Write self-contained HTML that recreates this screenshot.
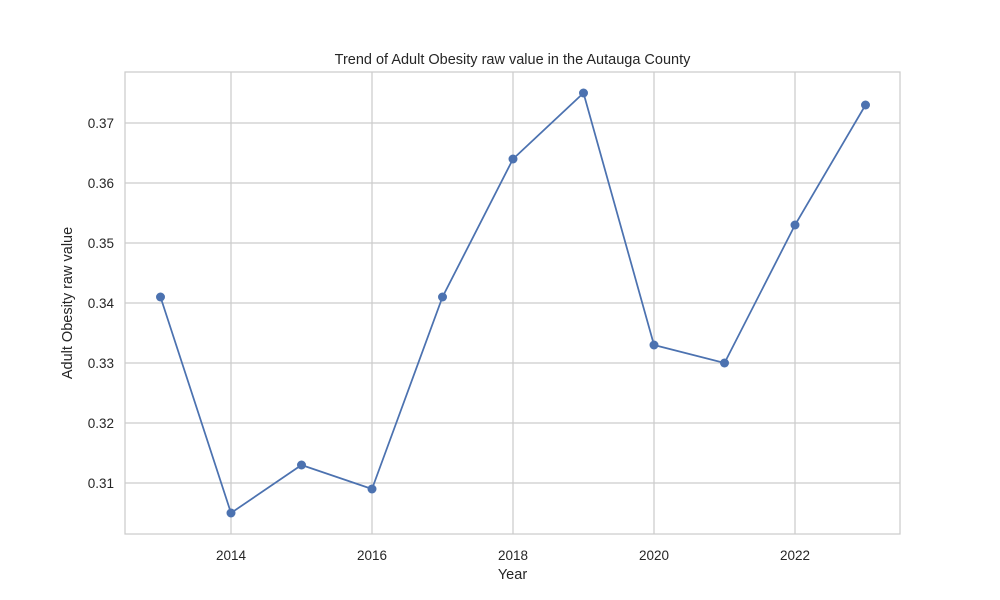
<!DOCTYPE html>
<html>
<head>
<meta charset="utf-8">
<style>
  html,body{margin:0;padding:0;background:#fff;}
  svg{display:block;font-family:"Liberation Sans","DejaVu Sans",sans-serif;}
</style>
</head>
<body>
<svg id="chart" width="1000" height="600" viewBox="0 0 1000 600">
  <rect x="0" y="0" width="1000" height="600" fill="#ffffff"/>
  <g id="grid"></g>
  <rect x="125" y="72" width="775" height="462" fill="none" stroke="#cccccc" stroke-width="1.25"/>
  <g id="ticks"></g>
  <g id="series"></g>
  <text x="512.5" y="64" text-anchor="middle" font-size="14.5" fill="#262626">Trend of Adult Obesity raw value in the Autauga County</text>
  <text x="512.5" y="579" text-anchor="middle" font-size="14.5" fill="#262626">Year</text>
  <text x="72" y="303" text-anchor="middle" font-size="14.5" fill="#262626" transform="rotate(-90 72 303)">Adult Obesity raw value</text>
</svg>
<script>
const years = [2013,2014,2015,2016,2017,2018,2019,2020,2021,2022,2023];
const values = [0.341,0.305,0.313,0.309,0.341,0.364,0.375,0.333,0.330,0.353,0.373];
const xTicks = [2014,2016,2018,2020,2022];
const yTicks = [0.31,0.32,0.33,0.34,0.35,0.36,0.37];
const yTickLabels = ["0.31","0.32","0.33","0.34","0.35","0.36","0.37"];

const NS = "http://www.w3.org/2000/svg";
const L=125,R=900,T=72,B=534;
function xs(v){ return 231 + (v-2014)*70.5; }
function ys(v){ return 483 - (v-0.31)*6000; }
function mk(tag, attrs, parent){
  const e=document.createElementNS(NS,tag);
  for(const k in attrs) e.setAttribute(k,attrs[k]);
  parent.appendChild(e); return e;
}
const grid=document.getElementById('grid');
const ticks=document.getElementById('ticks');
const series=document.getElementById('series');

xTicks.forEach(t=>{
  const l=mk('line',{x1:xs(t),x2:xs(t),y1:T,y2:B,stroke:'#cccccc','stroke-width':1.25},grid);
  
  
  const tx=mk('text',{x:xs(t),y:B+26,'text-anchor':'middle','font-size':13.5,fill:'#262626'},ticks);
  tx.textContent=t;
  
  
});
yTicks.forEach((t,i)=>{
  const l=mk('line',{x1:L,x2:R,y1:ys(t),y2:ys(t),stroke:'#cccccc','stroke-width':1.25},grid);
  
  
  const tx=mk('text',{x:L-11,y:ys(t)+5,'text-anchor':'end','font-size':13.5,fill:'#262626'},ticks);
  tx.textContent=yTickLabels[i];
  
  
});
const pts=years.map((y,i)=>xs(y)+','+ys(values[i])).join(' ');
const pl=mk('polyline',{points:pts,fill:'none',stroke:'#4c72b0','stroke-width':1.75},series);


years.forEach((y,i)=>{
  const c=mk('circle',{cx:xs(y),cy:ys(values[i]),r:4.5,fill:'#4c72b0'},series);
  
  
});
</script>
</body>
</html>
